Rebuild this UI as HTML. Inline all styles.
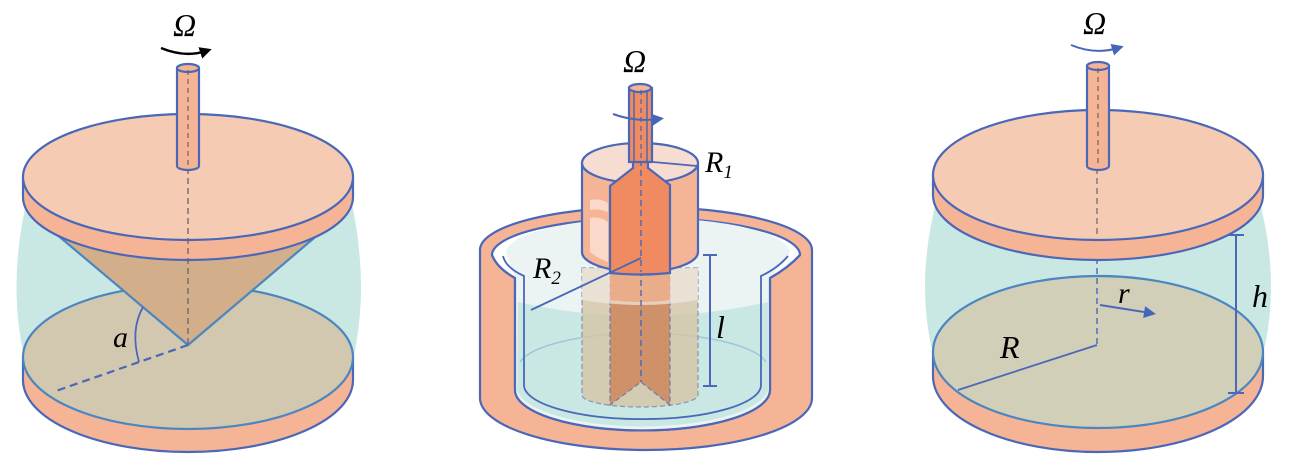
<!DOCTYPE html>
<html><head><meta charset="utf-8"><style>html,body{margin:0;padding:0;background:#fff}svg{display:block}</style></head>
<body>
<svg width="1295" height="466" viewBox="0 0 1295 466" xmlns="http://www.w3.org/2000/svg" font-family="Liberation Serif, serif" font-style="italic">
<defs>
<marker id="ab" markerWidth="12" markerHeight="12" refX="6" refY="6" orient="auto" markerUnits="userSpaceOnUse"><path d="M0,0 L12,6 L0,12 Z" fill="#000"/></marker>
<marker id="ablue" markerWidth="12" markerHeight="12" refX="6" refY="6" orient="auto" markerUnits="userSpaceOnUse"><path d="M0,0 L12,6 L0,12 Z" fill="#4466b8"/></marker>
</defs>
<g stroke="#4a67b8" stroke-width="2.2">
<!-- ===== LEFT ===== -->
<path d="M28,195 Q5,290 28,372 L350,372 Q372,290 350,195 Z" fill="#c9e8e3" stroke="none"/>
<path d="M23,358 L23,380 A165,72 0 0 0 353,380 L353,358 Z" fill="#f6b496"/>
<ellipse cx="188" cy="357" rx="165" ry="72" fill="#d2c8b0" stroke="#4a86c0"/>
<path d="M55,233 L188,345 L320,233 Z" fill="#d2ae8a" stroke="#4a86c0"/>
<line x1="188" y1="345" x2="53" y2="392" stroke-dasharray="8,5"/>
<path d="M143,307 Q130,330 139,362" fill="none" stroke-width="1.8"/>
<path d="M23,177 L23,197 A165,63 0 0 0 353,197 L353,177 Z" fill="#f6b496"/>
<ellipse cx="188" cy="177" rx="165" ry="63" fill="#f5cbb3"/>
<line x1="188" y1="168" x2="188" y2="345" stroke="#666" stroke-width="1.3" stroke-dasharray="6,4"/>
<path d="M177,68 L177,166 A11,4 0 0 0 199,166 L199,68 Z" fill="#f6b496"/>
<ellipse cx="188" cy="68" rx="11" ry="4" fill="#f6b496"/>
<line x1="188" y1="70" x2="188" y2="166" stroke="#666" stroke-width="1.2" stroke-dasharray="5,4"/>
<path d="M161,48 Q185,58 206,51" fill="none" stroke="#000" stroke-width="2.4" marker-end="url(#ab)"/>

<!-- ===== RIGHT ===== -->
<path d="M938,195 Q912,290 938,372 L1258,372 Q1284,290 1258,195 Z" fill="#c9e8e3" stroke="none"/>
<path d="M933,352 L933,376 A165,76 0 0 0 1263,376 L1263,352 Z" fill="#f6b496"/>
<ellipse cx="1098" cy="352" rx="165" ry="76" fill="#d2cfb9" stroke="#4a86c0"/>
<line x1="1097" y1="345" x2="958" y2="390" stroke-width="1.8"/>
<line x1="1100" y1="305" x2="1150" y2="313" stroke-width="2" marker-end="url(#ablue)"/>
<line x1="1097" y1="168" x2="1097" y2="345" stroke="#4a67b8" stroke-width="1.4" stroke-dasharray="6,4"/>
<path d="M933,175 L933,195 A165,65 0 0 0 1263,195 L1263,175 Z" fill="#f6b496"/>
<ellipse cx="1098" cy="175" rx="165" ry="65" fill="#f5cbb3"/>
<line x1="1097" y1="168" x2="1097" y2="238" stroke="#666" stroke-width="1.2" stroke-dasharray="6,4"/>
<line x1="1236" y1="235" x2="1236" y2="393" stroke-width="2"/>
<line x1="1228" y1="235" x2="1244" y2="235" stroke-width="2"/>
<line x1="1228" y1="393" x2="1244" y2="393" stroke-width="2"/>
<path d="M1087,66 L1087,166 A11,4 0 0 0 1109,166 L1109,66 Z" fill="#f6b496"/>
<ellipse cx="1098" cy="66" rx="11" ry="4" fill="#f6b496"/>
<line x1="1098" y1="68" x2="1098" y2="166" stroke="#666" stroke-width="1.2" stroke-dasharray="5,4"/>
<path d="M1071,45 Q1095,55 1118,48" fill="none" stroke-width="2" marker-end="url(#ablue)"/>

<!-- ===== MIDDLE ===== -->
<path d="M480,250 L480,398 A166,52 0 0 0 812,398 L812,250 A166,43 0 0 0 480,250 Z" fill="#f6b496"/>
<path d="M492,255 Q497,268 515,278 L515,390 A126,40 0 0 0 770,390 L770,278 Q788,268 800,255 A154,37 0 0 0 492,255 Z" fill="#ffffff"/>
<path d="M506,253 A142,35 0 0 1 790,253 L770,278 L770,390 A126,40 0 0 1 515,390 L515,278 Z" fill="#ebf4f3" stroke="none"/>
<path d="M518,302 Q641,330 768,302 L768,390 A126,40 0 0 1 517,390 Z" fill="#c9e8e3" stroke="none"/>
<path d="M520,362 A125,35 0 0 1 766,362" fill="none" stroke="#9fc8dd" stroke-width="1.5"/>
<path d="M492,255 Q497,268 515,278 L515,390 A126,40 0 0 0 770,390 L770,278 Q788,268 800,255" fill="none"/>
<path d="M503,256 Q506,268 524,276 L524,385 A118,34 0 0 0 761,385 L761,276 Q778,268 788,256" fill="none" stroke-width="1.8"/>
<path d="M582,268 L582,395 A58,12 0 0 0 698,395 L698,268 Z" fill="#d5c4a6" fill-opacity="0.8" stroke="#8a94b8" stroke-width="1.2" stroke-dasharray="5,3"/>
<path d="M610,268 L610,405 L641,382 L670,405 L670,268 Z" fill="#cf916a" stroke="#6a7ab0" stroke-width="1.2" stroke-dasharray="5,3"/>
<path d="M582,268 L698,268 L698,300 Q641,310 582,300 Z" fill="#efe9e0" fill-opacity="0.7" stroke="none"/>
<path d="M610,268 L670,268 L670,300 Q641,304 610,300 Z" fill="#e9ad8a" stroke="none"/>
<line x1="641" y1="170" x2="641" y2="382" stroke-dasharray="6,4" stroke-width="1.4"/>
<path d="M582,163 L582,252 A58,20 0 0 0 698,252 L698,163 Z" fill="#f6b496"/>
<ellipse cx="640" cy="163" rx="58" ry="20" fill="#f7ddd1"/>
<path d="M610,186 L633,168 L633,160 L648,160 L648,168 L670,185 L670,273 Q641,276 610,273 Z" fill="#f08a60"/>
<path d="M590,200 Q600,198 608,203 L608,212 Q597,208 590,210 Z" fill="#fbd9ca" stroke="none"/>
<path d="M590,218 Q600,216 608,222 L608,262 Q597,258 590,252 Z" fill="#fbd9ca" stroke="none"/>
<line x1="641" y1="160" x2="641" y2="272" stroke-dasharray="6,4" stroke-width="1.4"/>
<line x1="642" y1="161" x2="697" y2="166" stroke-width="1.8"/>
<line x1="641" y1="258" x2="531" y2="310" stroke-width="1.8"/>
<path d="M629,88 L629,162 L652,162 L652,88 Z" fill="#f08a60"/>
<ellipse cx="640" cy="88" rx="11" ry="4" fill="#f6b496"/>
<line x1="634" y1="92" x2="634" y2="162" stroke-width="1.5"/>
<line x1="647" y1="92" x2="647" y2="162" stroke-width="1.5"/>
<line x1="641" y1="90" x2="641" y2="160" stroke-dasharray="5,4" stroke-width="1.3"/>
<path d="M613,114 Q635,122 658,119" fill="none" stroke-width="2" marker-end="url(#ablue)"/>
<line x1="710" y1="255" x2="710" y2="386" stroke-width="2"/>
<line x1="703" y1="255" x2="717" y2="255" stroke-width="2"/>
<line x1="703" y1="386" x2="717" y2="386" stroke-width="2"/>
</g>
<g fill="#000" font-size="32">
<text x="173" y="36">Ω</text>
<text x="113" y="347" font-size="30">a</text>
<text x="623" y="72">Ω</text>
<text x="705" y="172" font-size="30">R<tspan font-size="19" dy="6">1</tspan></text>
<text x="533" y="278" font-size="30">R<tspan font-size="19" dy="6">2</tspan></text>
<text x="716" y="338" font-size="32">l</text>
<text x="1083" y="34">Ω</text>
<text x="1000" y="358" font-size="32">R</text>
<text x="1118" y="303" font-size="30">r</text>
<text x="1252" y="307" font-size="32">h</text>
</g>
</svg>
</body></html>
